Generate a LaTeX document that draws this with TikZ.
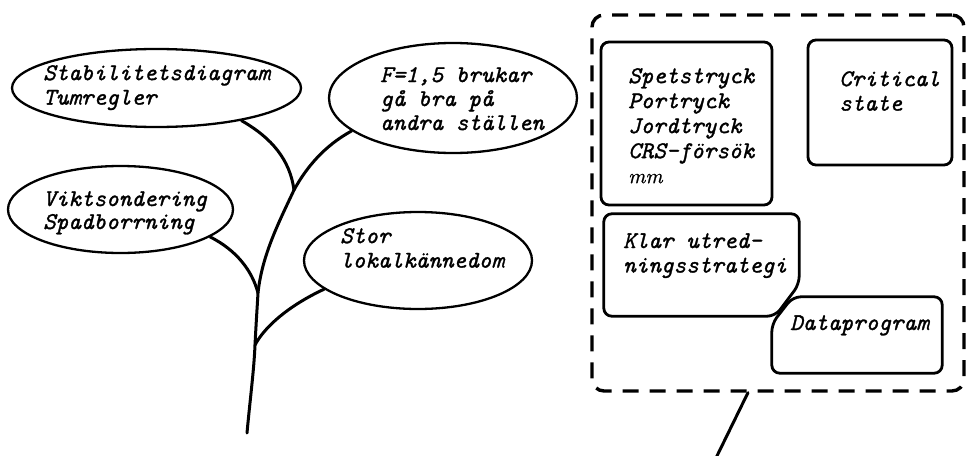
\documentclass[tikz,border=0pt]{standalone}
\usepackage{fontspec}
\usetikzlibrary{shapes.geometric}
% slanted typewriter hand, slightly thickened to look like pen writing
\newfontfamily\handfont{lmmono10-italic.otf}[FakeBold=1.2]
\newfontfamily\smallhand{lmroman10-italic.otf}[FakeBold=0.8]
\begin{document}
\begin{tikzpicture}[x=1pt,y=-1pt,
  bubble/.style={ellipse, draw, line width=2.3pt, inner sep=0pt},
  card/.style={rectangle, draw, line width=2.8pt, rounded corners=8pt, inner sep=0pt},
  frame/.style={line width=2.8pt, rounded corners=8pt},
  blank/.style={rectangle, inner sep=0pt},
  hand/.style={font=\fontsize{24}{24.5}\selectfont\handfont, align=left, inner sep=0pt, anchor=north west},
  stem/.style={line width=3pt, line cap=round},
  group/.style={rectangle, draw, line width=3.4pt, rounded corners=12pt, dash pattern=on 16pt off 11pt, inner sep=0pt},
]
\useasboundingbox (0,0) rectangle (966,455);

% ---- bubbles on the tree ----
\node[bubble, minimum width=289pt, minimum height=78pt]  (e1) at (156.5,88) {};
\node[bubble, minimum width=248pt, minimum height=110pt] (e2) at (453,98) {};
\node[bubble, minimum width=225pt, minimum height=87pt]  (e3) at (120.5,209.5) {};
\node[bubble, minimum width=228pt, minimum height=97pt]  (e4) at (418,260.5) {};

\node[hand] (t1) at (43,65)  {Stabilitetsdiagram\\Tumregler};
\node[hand, font=\fontsize{24}{24}\selectfont\handfont] (t2) at (380,67) {F=1,5 brukar\\gå bra på\\andra ställen};
\node[hand, font=\fontsize{24}{23}\selectfont\handfont] (t3) at (43,191) {Viktsondering\\Spadborrning};
\node[hand] (t4) at (340,228) {Stor\\lokalkännedom};

% ---- the tree ----
\coordinate (root) at (247,433);
\coordinate (j1) at (255,345);
\coordinate (j2) at (258,293);
\coordinate (j3) at (294,190);

\draw[stem] (root) .. controls (250,400) and (254,370) .. (j1)
            .. controls (256,325) and (257,310) .. (j2)
            .. controls (262,255) and (279,222) .. (j3);
\draw[stem] (j3) .. controls (290,160) and (272,138) .. (e1.-21);
\draw[stem] (j3) .. controls (306,168) and (324,146) .. (e2.-162);
\draw[stem] (j2) .. controls (252,270) and (236,250) .. (e3.-17.5);
\draw[stem] (j1) .. controls (265,326) and (290,305) .. (e4.-163);

% ---- dashed group of cards ----
\node[group, minimum width=372pt, minimum height=376pt] (grp) at (778,203) {};

\node[card, minimum width=171pt, minimum height=163pt] (b1) at (686.5,123.5) {};
\node[card, minimum width=144pt, minimum height=125pt] (b2) at (880,102.5) {};
\node[blank, minimum width=195pt, minimum height=102pt] (b3) at (701.5,265) {};
\node[blank, minimum width=170pt, minimum height=76pt]  (b4) at (857,335) {};

\draw[frame] (b3.north) -- (b3.north east) -- ([yshift=32pt]b3.south east)
  -- ([xshift=-24pt]b3.south east) -- (b3.south west) -- (b3.north west) -- cycle;
\draw[frame] (b4.south) -- (b4.south west) -- ([yshift=-27pt]b4.north west)
  -- ([xshift=21pt]b4.north west) -- (b4.north east) -- (b4.south east) -- cycle;

\node[hand, font=\fontsize{24}{25}\selectfont\handfont] (t5) at (628,68)
  {Spetstryck\\Portryck\\Jordtryck\\CRS-försök\\{\fontsize{21}{25}\selectfont\smallhand mm}};
\node[hand] (t6) at (839,71)  {Critical\\state};
\node[hand] (t7) at (623,233) {Klar utred-\\ningsstrategi};
\node[hand] (t8) at (790,315) {Dataprogram};

% ---- stem leaving the group ----
\coordinate (tail) at (714,462);
\draw[stem] (grp.-99.4) -- (tail);
\end{tikzpicture}
\end{document}
